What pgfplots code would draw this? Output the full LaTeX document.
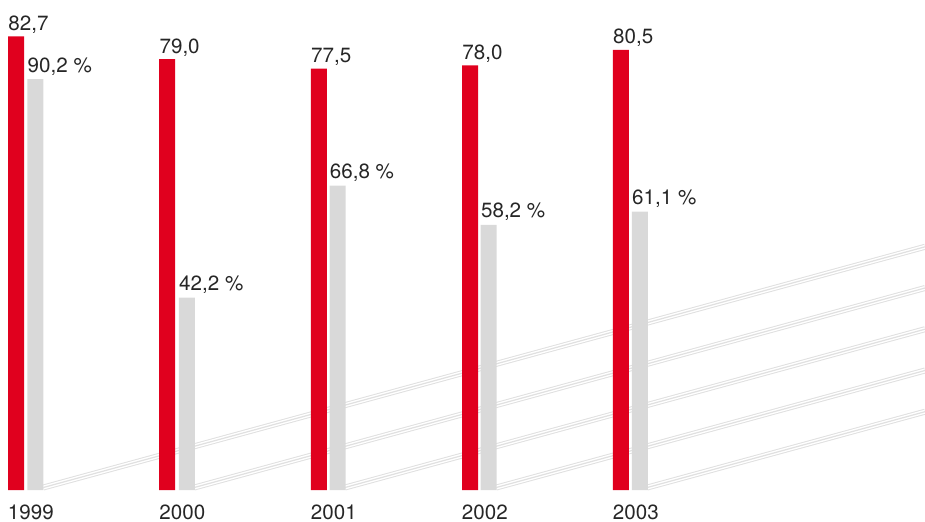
\documentclass[border=0pt]{standalone}
\usepackage{pgfplots}
\pgfplotsset{compat=1.18}
\usepackage{fontspec}
\setmainfont{TeX Gyre Heros}
\definecolor{barred}{HTML}{E0001E}
\definecolor{bargrey}{HTML}{D9D9D9}
\definecolor{linegrey}{HTML}{E0E0E0}
\definecolor{txt}{HTML}{262626}
\tikzset{lab/.style={font=\fontsize{10.3}{12}\selectfont, text=txt}}
\begin{document}
\begin{tikzpicture}
\pgfplotsset{
  base/.style={scale only axis, width=462.5pt, anchor=south west, clip=true,
    axis line style={draw=none}, tick style={draw=none}, xmin=0, xmax=925},
}
% decorative diagonal triple lines (pixel coordinates)
\begin{axis}[base, at={(0pt,0pt)}, height=260.5pt, ymin=0, ymax=521, hide axis]
\addplot[linegrey, line width=3pt, line cap=butt, unbounded coords=jump] coordinates {
(43.3,33.5) (925,274.2) (nan,nan)
(194.3,33.5) (925,233.0) (nan,nan)
(345,33.5) (925,191.8) (nan,nan)
(496.3,33.5) (925,150.5) (nan,nan)
(647.3,33.5) (925,109.3)};
\addplot[white, line width=2pt, line cap=butt, unbounded coords=jump] coordinates {
(43.3,33.5) (925,274.2) (nan,nan)
(194.3,33.5) (925,233.0) (nan,nan)
(345,33.5) (925,191.8) (nan,nan)
(496.3,33.5) (925,150.5) (nan,nan)
(647.3,33.5) (925,109.3)};
\addplot[linegrey, line width=0.6pt, line cap=butt, unbounded coords=jump] coordinates {
(43.3,33.5) (925,274.2) (nan,nan)
(194.3,33.5) (925,233.0) (nan,nan)
(345,33.5) (925,191.8) (nan,nan)
(496.3,33.5) (925,150.5) (nan,nan)
(647.3,33.5) (925,109.3)};
\end{axis}
% red bars
\begin{axis}[base, at={(0pt,15.5pt)}, height=245pt, ymin=9.52, ymax=88.55, ytick=\empty,
  xtick={7.5,159,310.5,461.5,612.5}, xticklabels={1999,2000,2001,2002,2003},
  xticklabel style={lab, anchor=base west, inner sep=0pt, yshift=-14.5pt}]
\addplot[ybar, bar width=8pt, bar shift=0pt, fill=barred, draw=none,
  nodes near coords={\pgfmathprintnumber[fixed,fixed zerofill,precision=1,use comma,assume math mode=true]{\pgfplotspointmeta}},
  every node near coord/.append style={lab, anchor=base west, inner sep=0pt, xshift=-4pt, yshift=3pt}]
coordinates {(16,82.7) (167.2,79.0) (318.8,77.5) (470,78.0) (620.8,80.5)};
\end{axis}
% grey bars
\begin{axis}[base, at={(0pt,15.5pt)}, height=245pt, ymin=0, ymax=107.55, ytick=\empty, xtick=\empty]
\addplot[ybar, bar width=8pt, bar shift=0pt, fill=bargrey, draw=none,
  nodes near coords={\pgfmathprintnumber[fixed,fixed zerofill,precision=1,use comma,assume math mode=true]{\pgfplotspointmeta}\ \%},
  every node near coord/.append style={lab, anchor=base west, inner sep=0pt, xshift=-4pt, yshift=3.5pt}]
coordinates {(35.3,90.2) (186.8,42.2) (337.5,66.8) (488.7,58.2) (639.8,61.1)};
\end{axis}
\pgfresetboundingbox
\path[use as bounding box] (0pt,0pt) rectangle (462.5pt,260.5pt);
\end{tikzpicture}
\end{document}
